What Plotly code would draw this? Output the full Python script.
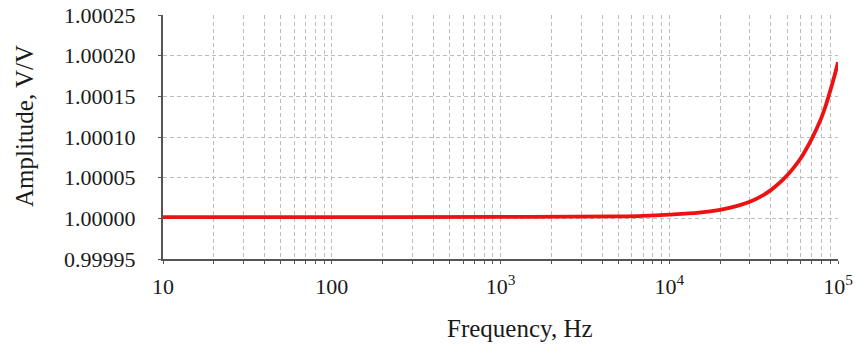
import plotly.graph_objects as go

freq_hz = [10, 100, 1000, 5000, 7000, 10000, 15000, 20000, 25000, 30000, 35000,
           40000, 45000, 50000, 55000, 60000, 65000, 70000, 75000, 80000, 85000,
           90000, 95000, 100000]
amplitude = [1.0000016, 1.0000016, 1.0000017, 1.0000024, 1.0000030, 1.0000045,
             1.0000070, 1.0000105, 1.0000150, 1.0000203, 1.0000270, 1.0000347,
             1.0000435, 1.0000530, 1.0000630, 1.0000735, 1.0000855, 1.0000980,
             1.0001110, 1.0001245, 1.0001400, 1.0001570, 1.0001740, 1.0001920]

x_tickvals = [10, 100, 1000, 10000, 100000]
x_ticktext = ["10", "100", "10<sup>3</sup>", "10<sup>4</sup>", "10<sup>5</sup>"]
y_min, y_max, y_step = 0.99995, 1.00025, 0.00005

FONT = "Liberation Serif"
TXT = "#1a1a1a"
GRID = "#bdbdbd"
AX = "#555555"

fig = go.Figure()
fig.add_trace(go.Scatter(x=freq_hz, y=amplitude, mode="lines",
                         line=dict(color="#ee1111", width=3.8, shape="spline", smoothing=1.0),
                         showlegend=False))

fig.update_layout(
    template="none",
    width=856, height=345,
    margin=dict(l=163, r=18, t=15, b=86, autoexpand=False),
    paper_bgcolor="white", plot_bgcolor="white",
    font=dict(family=FONT, size=22, color=TXT),
    xaxis=dict(type="log", range=[1, 5], tickvals=x_tickvals, ticktext=x_ticktext,
               tickfont=dict(family=FONT, size=22, color=TXT),
               automargin=False,
               showgrid=True, gridcolor=GRID, griddash="4px,3px", gridwidth=1,
               showline=True, linecolor=AX, linewidth=2,
               ticks="outside", ticklen=3, tickcolor=AX, tickwidth=1,
               ticklabelstandoff=4,
               minor=dict(dtick="D1", showgrid=True, gridcolor=GRID,
                          griddash="4px,3px", gridwidth=1,
                          ticks="outside", ticklen=3, tickcolor=AX),
               zeroline=False),
    yaxis=dict(range=[y_min, y_max], tick0=y_min, dtick=y_step, tickformat=".5f",
               tickfont=dict(family=FONT, size=22, color=TXT),
               automargin=False,
               showgrid=True, gridcolor=GRID, griddash="4px,3px", gridwidth=1,
               showline=True, linecolor=AX, linewidth=2,
               ticks="outside", ticklen=3, tickcolor=AX, tickwidth=1,
               ticklabelstandoff=18, zeroline=False),
    annotations=[
        dict(text="Frequency, Hz", xref="paper", yref="paper", x=0.529, y=-0.283,
             xanchor="center", yanchor="middle", showarrow=False,
             font=dict(family=FONT, size=25, color=TXT)),
        dict(text="Amplitude, V/V", xref="paper", yref="paper", x=-0.206, y=0.545,
             xanchor="center", yanchor="middle", textangle=-90, showarrow=False,
             font=dict(family=FONT, size=25, color=TXT)),
    ],
)

fig.write_html("out.html", config={"displayModeBar": False},
               post_script="document.body.style.margin='0';document.body.style.overflow='hidden';")
